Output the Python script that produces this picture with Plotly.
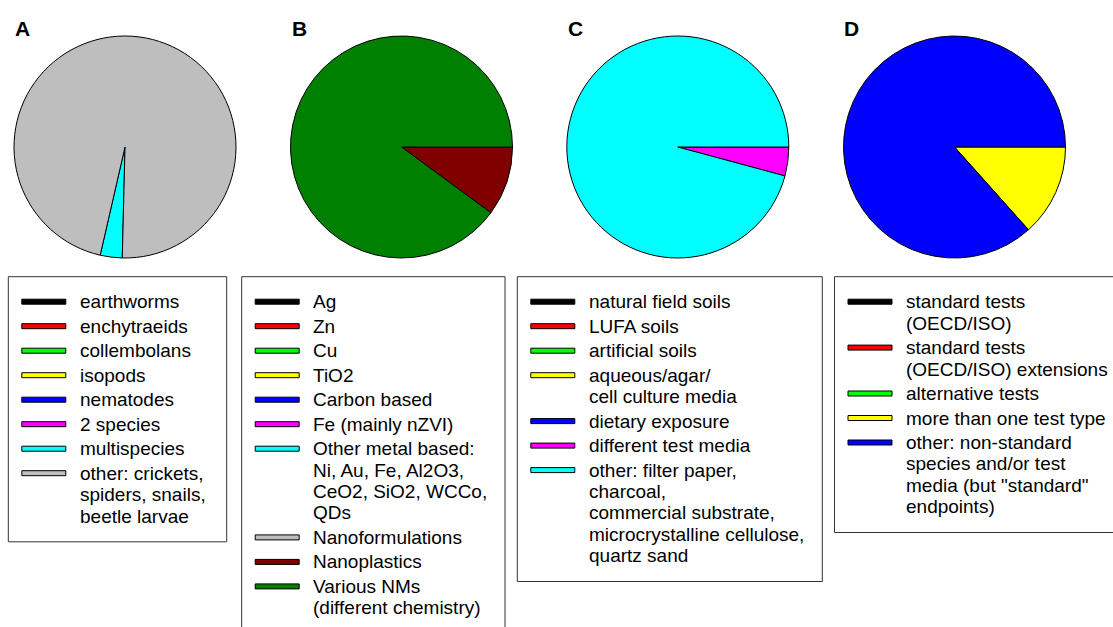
import plotly.graph_objects as go

# ---------------- data ----------------
a_labels = ["earthworms", "enchytraeids", "collembolans", "isopods", "nematodes",
            "2 species", "multispecies", "other: crickets,\nspiders, snails,\nbeetle larvae"]
a_values = [0, 0, 0, 0, 0, 0, 3.2, 96.8]
a_colors = ["#000000", "#FF0000", "#00FF00", "#FFFF00", "#0000FF", "#FF00FF", "#00FFFF", "#BEBEBE"]

b_labels = ["Ag", "Zn", "Cu", "TiO2", "Carbon based", "Fe (mainly nZVI)",
            "Other metal based:\nNi, Au, Fe, Al2O3,\nCeO2, SiO2, WCCo,\nQDs",
            "Nanoformulations", "Nanoplastics", "Various NMs\n(different chemistry)"]
b_values = [0, 0, 0, 0, 0, 0, 0, 0, 10.1, 89.9]
b_colors = ["#000000", "#FF0000", "#00FF00", "#FFFF00", "#0000FF", "#FF00FF", "#00FFFF",
            "#BEBEBE", "#800000", "#008000"]

c_labels = ["natural field soils", "LUFA soils", "artificial soils",
            "aqueous/agar/\ncell culture media", "dietary exposure", "different test media",
            "other: filter paper,\ncharcoal,\ncommercial substrate,\nmicrocrystalline cellulose,\nquartz sand"]
c_values = [0, 0, 0, 0, 0, 4.2, 95.8]
c_colors = ["#000000", "#FF0000", "#00FF00", "#FFFF00", "#0000FF", "#FF00FF", "#00FFFF"]

d_labels = ["standard tests\n(OECD/ISO)", "standard tests\n(OECD/ISO) extensions",
            "alternative tests", "more than one test type",
            "other: non-standard\nspecies and/or test\nmedia (but \"standard\"\nendpoints)"]
d_values = [0, 0, 0, 13.4, 86.6]
d_colors = ["#000000", "#FF0000", "#00FF00", "#FFFF00", "#0000FF"]

panel_titles = ["A", "B", "C", "D"]

# ---------------- layout constants ----------------
W, H = 1113, 627
FONT = "Arial, Liberation Sans, sans-serif"
R = 111
CY = 147
panels = [
    dict(data=(a_labels, a_values, a_colors), cx=125.0, rot=181.4, box=(8.3, 226.7), tx=22),
    dict(data=(b_labels, b_values, b_colors), cx=401.5, rot=90, box=(241.7, 505.0), tx=299.5),
    dict(data=(c_labels, c_values, c_colors), cx=677.8, rot=90, box=(517.3, 822.3), tx=575),
    dict(data=(d_labels, d_values, d_colors), cx=954.5, rot=90, box=(834.5, 1125.0), tx=851),
]
BOX_TOP = 276.7
FIRST_Y = 301.7
ITEM_STEP = 24.5
LINE_STEP = 21.4
SW_X0, SW_X1, TXT_X = 13.5, 57.5, 69.2
SW_H = 5.0
LEG_FONT = 19


def fx(x):
    return x / W


def fy(y):
    return 1 - y / H


fig = go.Figure()
shapes = []
annotations = []

for p, title in zip(panels, panel_titles):
    labels, values, colors = p["data"]
    cx = p["cx"]
    fig.add_trace(go.Pie(
        labels=[l.replace("\n", "<br>") for l in labels],
        values=values,
        marker=dict(colors=colors, line=dict(color="#000000", width=1)),
        sort=False,
        direction="clockwise",
        rotation=p["rot"],
        textinfo="none",
        showlegend=False,
        domain=dict(x=[fx(cx - R), fx(cx + R)], y=[fy(CY + R), fy(CY - R)]),
    ))
    annotations.append(dict(
        text="<b>%s</b>" % title, x=fx(p["tx"]), y=fy(29), xref="paper", yref="paper",
        xanchor="center", yanchor="middle", showarrow=False,
        font=dict(family=FONT, size=21, color="#000000")))

    # legend box
    bl, br = p["box"]
    y = FIRST_Y
    last_line = y
    for lab, col in zip(labels, colors):
        lines = lab.split("\n")
        shapes.append(dict(
            type="rect", xref="paper", yref="paper",
            x0=fx(bl + SW_X0), x1=fx(bl + SW_X1), y0=fy(y - SW_H / 2), y1=fy(y + SW_H / 2),
            fillcolor=col, line=dict(color="#000000", width=1)))
        for k, line in enumerate(lines):
            ly = y + k * LINE_STEP
            annotations.append(dict(
                text=line, x=fx(bl + TXT_X), y=fy(ly), xref="paper", yref="paper",
                xanchor="left", yanchor="middle", showarrow=False,
                font=dict(family=FONT, size=LEG_FONT, color="#000000")))
            last_line = ly
        y = y + ITEM_STEP + (len(lines) - 1) * LINE_STEP
    bottom = last_line + 25.8
    shapes.insert(0, dict(
        type="rect", xref="paper", yref="paper",
        x0=fx(bl), x1=fx(br), y0=fy(bottom), y1=fy(BOX_TOP),
        fillcolor="rgba(0,0,0,0)", line=dict(color="#333333", width=1), layer="below"))

fig.update_layout(
    width=W, height=H,
    margin=dict(l=0, r=0, t=0, b=0, autoexpand=False),
    paper_bgcolor="#FFFFFF", plot_bgcolor="#FFFFFF",
    showlegend=False,
    shapes=shapes,
    annotations=annotations,
    font=dict(family=FONT),
)

fig.write_html("out.html",
               config={"displayModeBar": False},
               post_script="document.body.style.margin='0';document.body.style.overflow='hidden';")
